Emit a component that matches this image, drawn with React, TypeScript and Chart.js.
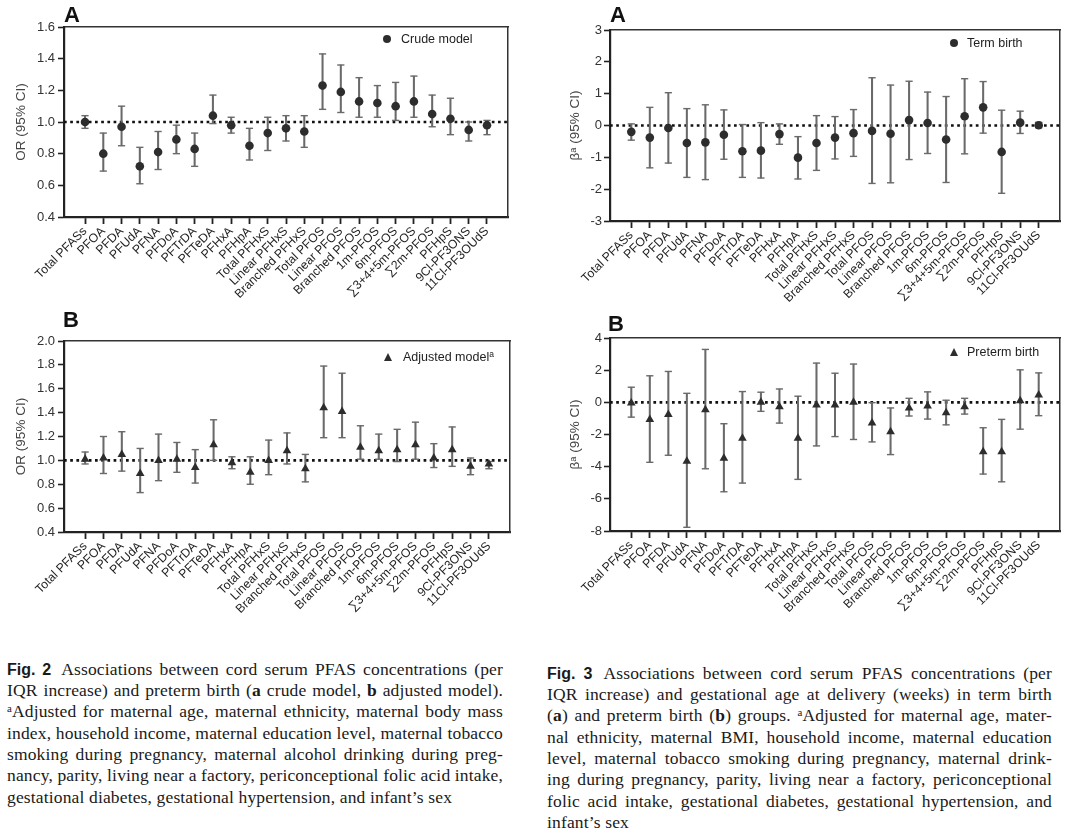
import React, { useEffect, useRef } from 'react';
import { Chart, registerables } from 'chart.js';

Chart.register(...registerables);

const categories = [
  'Total PFASs', 'PFOA', 'PFDA', 'PFUdA', 'PFNA', 'PFDoA', 'PFTrDA', 'PFTeDA', 'PFHxA', 'PFHpA',
  'Total PFHxS', 'Linear PFHxS', 'Branched PFHxS', 'Total PFOS', 'Linear PFOS', 'Branched PFOS',
  '1m-PFOS', '6m-PFOS', '\u22113+4+5m-PFOS', '\u22112m-PFOS', 'PFHpS', '9Cl-PF3ONS', '11Cl-PF3OUdS',
];

// Fig. 2A crude model OR (95% CI)
const crudeOR = [1.00, 0.80, 0.97, 0.72, 0.81, 0.89, 0.83, 1.04, 0.98, 0.85, 0.93, 0.96, 0.94, 1.23, 1.19, 1.13, 1.12, 1.10, 1.13, 1.05, 1.02, 0.95, 0.98];
const crudeLow = [0.96, 0.69, 0.85, 0.61, 0.70, 0.80, 0.72, 0.99, 0.93, 0.76, 0.82, 0.88, 0.84, 1.08, 1.06, 1.03, 1.03, 1.01, 1.03, 0.97, 0.92, 0.88, 0.92];
const crudeHigh = [1.04, 0.93, 1.10, 0.84, 0.94, 0.98, 0.93, 1.17, 1.03, 0.96, 1.03, 1.04, 1.04, 1.43, 1.36, 1.28, 1.23, 1.25, 1.29, 1.17, 1.15, 1.00, 1.01];

// Fig. 2B adjusted model OR (95% CI)
const adjOR = [1.01, 1.02, 1.05, 0.89, 1.00, 1.01, 0.94, 1.13, 0.98, 0.90, 1.00, 1.08, 0.93, 1.44, 1.41, 1.11, 1.08, 1.09, 1.13, 1.02, 1.09, 0.95, 0.97];
const adjLow = [0.97, 0.89, 0.91, 0.73, 0.83, 0.90, 0.81, 1.00, 0.93, 0.80, 0.88, 0.97, 0.82, 1.19, 1.19, 1.01, 1.01, 0.99, 1.01, 0.94, 0.95, 0.88, 0.93];
const adjHigh = [1.07, 1.20, 1.24, 1.10, 1.22, 1.15, 1.09, 1.34, 1.03, 1.03, 1.17, 1.23, 1.05, 1.79, 1.73, 1.29, 1.22, 1.26, 1.32, 1.14, 1.28, 1.02, 0.99];

// Fig. 3A term birth beta (95% CI)
const termBeta = [-0.20, -0.38, -0.08, -0.55, -0.53, -0.29, -0.81, -0.79, -0.27, -1.01, -0.55, -0.38, -0.24, -0.17, -0.26, 0.17, 0.08, -0.44, 0.29, 0.57, -0.83, 0.09, 0.01];
const termLow = [-0.46, -1.33, -1.18, -1.63, -1.70, -1.06, -1.63, -1.65, -0.59, -1.68, -1.41, -1.05, -0.97, -1.82, -1.80, -1.07, -0.88, -1.79, -0.89, -0.24, -2.13, -0.25, -0.07];
const termHigh = [0.05, 0.57, 1.03, 0.53, 0.65, 0.49, 0.03, 0.09, 0.05, -0.35, 0.31, 0.28, 0.50, 1.50, 1.27, 1.39, 1.05, 0.91, 1.47, 1.38, 0.48, 0.45, 0.10];

// Fig. 3B preterm birth beta (95% CI)
const pretermBeta = [-0.04, -1.06, -0.75, -3.67, -0.46, -3.48, -2.23, 0.00, -0.27, -2.23, -0.17, -0.17, 0.00, -1.29, -1.83, -0.35, -0.23, -0.65, -0.27, -3.08, -3.08, 0.10, 0.46];
const pretermLow = [-0.92, -3.73, -3.29, -7.77, -4.13, -5.56, -5.02, -0.56, -1.29, -4.79, -2.71, -2.13, -2.31, -2.46, -3.25, -0.85, -1.04, -1.40, -0.73, -4.46, -4.94, -1.67, -0.83];
const pretermHigh = [0.94, 1.65, 1.92, 0.56, 3.29, -1.33, 0.67, 0.63, 0.83, 0.38, 2.44, 1.81, 2.38, -0.02, -0.35, 0.25, 0.65, 0.13, 0.25, -1.58, -1.06, 2.02, 1.83];

// Axis ticks
const crudeTicks = [0.4, 0.6, 0.8, 1.0, 1.2, 1.4, 1.6];
const crudeTickLabels = ['0.4', '0.6', '0.8', '1.0', '1.2', '1.4', '1.6'];
const adjTicks = [0.4, 0.6, 0.8, 1.0, 1.2, 1.4, 1.6, 1.8, 2.0];
const adjTickLabels = ['0.4', '0.6', '0.8', '1.0', '1.2', '1.4', '1.6', '1.8', '2.0'];
const termTicks = [-3, -2.5, -2, -1.5, -1, -0.5, 0, 0.5, 1, 1.5, 2, 2.5, 3];
const termTickLabels = ['-3', '', '-2', '', '-1', '', '0', '', '1', '', '2', '', '3'];
const pretermTicks = [-8, -7, -6, -5, -4, -3, -2, -1, 0, 1, 2, 3, 4];
const pretermTickLabels = ['-8', '', '-6', '', '-4', '', '-2', '', '0', '', '2', '', '4'];

const SANS = '"Liberation Sans", Arial, Helvetica, sans-serif';
const SERIF = '"Liberation Serif", "Times New Roman", Times, serif';

type Box = { x: number; y: number; w: number; h: number };
type Area = { l: number; t: number; r: number; b: number };

type PanelProps = {
  canvas: Box;
  area: Area;
  est: number[];
  low: number[];
  high: number[];
  refValue: number;
  yMin: number;
  yMax: number;
  yTicks: number[];
  yLabels: string[];
  yTitle: string;
  titlePad: number;
  tickPad: number;
  pointStyle: 'circle' | 'triangle';
  pointRadius: number;
};

function ForestPanel(p: PanelProps) {
  const ref = useRef<HTMLCanvasElement | null>(null);
  useEffect(() => {
    const c = ref.current;
    if (!c) return;
    const xMin = -1.15;
    const xMax = categories.length - 1 + 1.15;
    const { canvas, area } = p;
    const whisker = '#6a6a6a';
    const mark = '#2d2d2d';
    const chart = new Chart(c, {
      type: 'scatter',
      data: {
        datasets: [
          {
            type: 'scatter',
            data: p.est.map((v, i) => ({ x: i, y: v })),
            pointStyle: p.pointStyle,
            pointRadius: p.pointRadius,
            pointHoverRadius: p.pointRadius,
            pointBackgroundColor: mark,
            pointBorderColor: mark,
            pointBorderWidth: 0,
            order: 0,
          } as any,
          {
            type: 'scatter',
            data: p.high.map((v, i) => ({ x: i, y: v })),
            pointStyle: 'line',
            pointRadius: 3.6,
            pointHoverRadius: 3.6,
            pointBorderColor: whisker,
            pointBorderWidth: 1.4,
            order: 1,
          } as any,
          {
            type: 'scatter',
            data: p.low.map((v, i) => ({ x: i, y: v })),
            pointStyle: 'line',
            pointRadius: 3.6,
            pointHoverRadius: 3.6,
            pointBorderColor: whisker,
            pointBorderWidth: 1.4,
            order: 1,
          } as any,
          {
            type: 'bar',
            data: p.low.map((lo, i) => ({ x: i, y: [lo, p.high[i]] })),
            backgroundColor: whisker,
            borderWidth: 0,
            barThickness: 1.4,
            grouped: false,
            order: 2,
          } as any,
          {
            type: 'line',
            data: [{ x: xMin, y: p.refValue }, { x: xMax, y: p.refValue }],
            borderColor: '#111',
            borderWidth: 2.7,
            borderDash: [2.7, 3.5],
            pointRadius: 0,
            fill: false,
            order: 3,
          } as any,
        ],
      },
      options: {
        responsive: false,
        animation: false,
        events: [],
        layout: {
          autoPadding: false,
          padding: {
            left: 0,
            top: area.t - canvas.y,
            right: canvas.x + canvas.w - area.r,
            bottom: 0,
          },
        },
        plugins: { legend: { display: false }, tooltip: { enabled: false } },
        scales: {
          x: {
            type: 'linear',
            position: 'bottom',
            min: xMin,
            max: xMax,
            offset: false,
            afterBuildTicks: (s: any) => {
              s.ticks = categories.map((_, i) => ({ value: i }));
            },
            afterFit: (s: any) => {
              s.height = canvas.y + canvas.h - area.b;
            },
            ticks: {
              autoSkip: false,
              minRotation: 45,
              maxRotation: 45,
              padding: 0,
              color: '#1e1e1e',
              font: { family: SANS, size: 12.3 },
              callback: (v: any) => categories[Math.round(Number(v))] ?? '',
            },
            grid: {
              display: true,
              drawOnChartArea: false,
              drawTicks: true,
              tickLength: 7,
              tickWidth: 1.8,
              tickColor: '#222',
              offset: false,
            },
            border: { display: true, width: 2.2, color: '#222' },
          },
          x2: {
            type: 'linear',
            position: 'top',
            min: xMin,
            max: xMax,
            ticks: { display: false },
            grid: { display: false },
            border: { display: true, width: 1.5, color: '#333' },
            afterFit: (s: any) => {
              s.height = 0;
            },
          },
          y: {
            type: 'linear',
            position: 'left',
            min: p.yMin,
            max: p.yMax,
            beginAtZero: false,
            afterBuildTicks: (s: any) => {
              s.ticks = p.yTicks.map((v) => ({ value: v }));
            },
            afterFit: (s: any) => {
              s.width = area.l - canvas.x;
            },
            ticks: {
              padding: p.tickPad,
              color: '#333',
              font: { family: SANS, size: 13 },
              callback: (_v: any, i: number) => p.yLabels[i],
            },
            grid: {
              display: true,
              drawOnChartArea: false,
              drawTicks: true,
              tickLength: 6,
              tickWidth: 1.6,
              tickColor: '#222',
            },
            border: { display: true, width: 2.2, color: '#222' },
            title: {
              display: true,
              text: p.yTitle,
              color: '#444',
              font: { family: SANS, size: 13.5 },
              padding: { top: p.titlePad, bottom: 0 },
            },
          },
          y2: {
            type: 'linear',
            position: 'right',
            min: p.yMin,
            max: p.yMax,
            ticks: { display: false },
            grid: { display: false },
            border: { display: true, width: 1.5, color: '#333' },
            afterFit: (s: any) => {
              s.width = 0;
            },
          },
        } as any,
      },
    });
    return () => chart.destroy();
  }, []);
  const { x, y, w, h } = p.canvas;
  return (
    <canvas
      ref={ref}
      width={w}
      height={h}
      style={{ position: 'absolute', left: x, top: y, width: w, height: h }}
    />
  );
}

function Letter({ x, y, text }: { x: number; y: number; text: string }) {
  return (
    <div
      style={{
        position: 'absolute',
        left: x,
        top: y,
        fontFamily: SANS,
        fontWeight: 700,
        fontSize: 22,
        lineHeight: '22px',
        color: '#111',
      }}
    >
      {text}
    </div>
  );
}

function LegendItem({ mx, my, tx, shape, children }: { mx: number; my: number; tx: number; shape: 'circle' | 'triangle'; children: React.ReactNode }) {
  return (
    <>
      {shape === 'circle' ? (
        <div
          style={{
            position: 'absolute',
            left: mx - 4,
            top: my - 4,
            width: 8,
            height: 8,
            borderRadius: '50%',
            background: '#2d2d2d',
          }}
        />
      ) : (
        <div
          style={{
            position: 'absolute',
            left: mx - 4.5,
            top: my - 4.5,
            width: 0,
            height: 0,
            borderLeft: '4.5px solid transparent',
            borderRight: '4.5px solid transparent',
            borderBottom: '8px solid #2d2d2d',
          }}
        />
      )}
      <div
        style={{
          position: 'absolute',
          left: tx,
          top: my - 8,
          height: 16,
          lineHeight: '16px',
          fontFamily: SANS,
          fontSize: 12.5,
          color: '#222',
          whiteSpace: 'nowrap',
        }}
      >
        {children}
      </div>
    </>
  );
}

const supA = (
  <span style={{ fontSize: '0.62em', verticalAlign: '0.5em', lineHeight: 0 }}>a</span>
);

function Caption({ x, y, w, lines }: { x: number; y: number; w: number; lines: React.ReactNode[] }) {
  return (
    <div
      style={{
        position: 'absolute',
        left: x,
        top: y,
        width: w,
        fontFamily: SERIF,
        fontSize: 17.5,
        letterSpacing: 0.15,
        color: '#1a1a1a',
      }}
    >
      {lines.map((ln, i) => (
        <div
          key={i}
          style={{
            height: 21.4,
            lineHeight: '21.4px',
            textAlign: 'justify',
            textAlignLast: i === lines.length - 1 ? 'left' : 'justify',
            overflow: 'visible',
          } as any}
        >
          {ln}
        </div>
      ))}
    </div>
  );
}

const figLabel = (t: string) => (
  <span style={{ fontFamily: SANS, fontWeight: 700, fontSize: 16, letterSpacing: 0, marginRight: 4 }}>{t}</span>
);

const fig2Lines: React.ReactNode[] = [
  <>{figLabel('Fig. 2')} Associations between cord serum PFAS concentrations (per</>,
  <>IQR increase) and preterm birth (<b>a</b> crude model, <b>b</b> adjusted model).</>,
  <>{supA}Adjusted for maternal age, maternal ethnicity, maternal body mass</>,
  <>index, household income, maternal education level, maternal tobacco</>,
  <>smoking during pregnancy, maternal alcohol drinking during preg-</>,
  <>nancy, parity, living near a factory, periconceptional folic acid intake,</>,
  <>gestational diabetes, gestational hypertension, and infant{'\u2019'}s sex</>,
];

const fig3Lines: React.ReactNode[] = [
  <>{figLabel('Fig. 3')} Associations between cord serum PFAS concentrations (per</>,
  <>IQR increase) and gestational age at delivery (weeks) in term birth</>,
  <>(<b>a</b>) and preterm birth (<b>b</b>) groups. {supA}Adjusted for maternal age, mater-</>,
  <>nal ethnicity, maternal BMI, household income, maternal education</>,
  <>level, maternal tobacco smoking during pregnancy, maternal drink-</>,
  <>ing during pregnancy, parity, living near a factory, periconceptional</>,
  <>folic acid intake, gestational diabetes, gestational hypertension, and</>,
  <>infant{'\u2019'}s sex</>,
];

export default function App() {
  return (
    <div
      style={{
        position: 'absolute',
        left: 0,
        top: 0,
        width: 1080,
        height: 837,
        background: '#fff',
        overflow: 'hidden',
      }}
    >
      <ForestPanel
        canvas={{ x: 0, y: 0, w: 540, h: 320 }}
        area={{ l: 64, t: 27, r: 508, b: 217 }}
        est={crudeOR}
        low={crudeLow}
        high={crudeHigh}
        refValue={1}
        yMin={0.4}
        yMax={1.6}
        yTicks={crudeTicks}
        yLabels={crudeTickLabels}
        yTitle="OR (95% CI)"
        titlePad={13}
        tickPad={3}
        pointStyle="circle"
        pointRadius={4.3}
      />
      <ForestPanel
        canvas={{ x: 0, y: 330, w: 540, h: 310 }}
        area={{ l: 64, t: 341, r: 510, b: 532 }}
        est={adjOR}
        low={adjLow}
        high={adjHigh}
        refValue={1}
        yMin={0.4}
        yMax={2.0}
        yTicks={adjTicks}
        yLabels={adjTickLabels}
        yTitle="OR (95% CI)"
        titlePad={13}
        tickPad={3}
        pointStyle="triangle"
        pointRadius={5}
      />
      <ForestPanel
        canvas={{ x: 540, y: 0, w: 540, h: 320 }}
        area={{ l: 610, t: 30, r: 1060, b: 221 }}
        est={termBeta}
        low={termLow}
        high={termHigh}
        refValue={0}
        yMin={-3}
        yMax={3}
        yTicks={termTicks}
        yLabels={termTickLabels}
        yTitle={'\u03b2\u1d43 (95% CI)'}
        titlePad={27}
        tickPad={2}
        pointStyle="circle"
        pointRadius={4.3}
      />
      <ForestPanel
        canvas={{ x: 540, y: 328, w: 540, h: 312 }}
        area={{ l: 610, t: 338, r: 1060, b: 531 }}
        est={pretermBeta}
        low={pretermLow}
        high={pretermHigh}
        refValue={0}
        yMin={-8}
        yMax={4}
        yTicks={pretermTicks}
        yLabels={pretermTickLabels}
        yTitle={'\u03b2\u1d43 (95% CI)'}
        titlePad={27}
        tickPad={2}
        pointStyle="triangle"
        pointRadius={5}
      />

      <Letter x={64} y={4} text="A" />
      <Letter x={610} y={4} text="A" />
      <Letter x={63} y={309} text="B" />
      <Letter x={608} y={313} text="B" />

      <LegendItem mx={387} my={39} tx={401} shape="circle">Crude model</LegendItem>
      <LegendItem mx={388} my={357} tx={403} shape="triangle">
        Adjusted model<span style={{ fontSize: '0.68em', verticalAlign: '0.45em', lineHeight: 0 }}>a</span>
      </LegendItem>
      <LegendItem mx={954} my={43} tx={967} shape="circle">Term birth</LegendItem>
      <LegendItem mx={954} my={352} tx={967} shape="triangle">Preterm birth</LegendItem>

      <Caption x={7} y={658.5} w={496} lines={fig2Lines} />
      <Caption x={547} y={662.5} w={505} lines={fig3Lines} />
    </div>
  );
}
